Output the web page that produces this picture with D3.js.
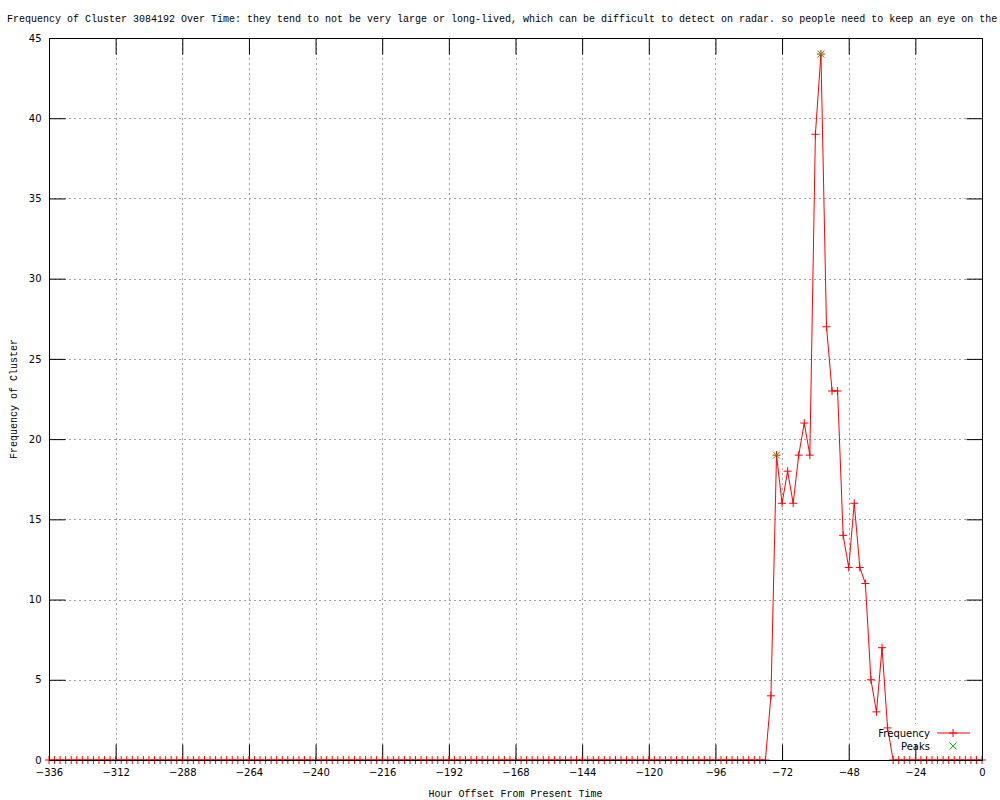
<!DOCTYPE html>
<html>
<head>
<meta charset="utf-8">
<script src="https://cdn.jsdelivr.net/npm/d3@7"></script>
<style>
  body { margin: 0; background: #fff; }
  .mono { font-family: "Liberation Mono", "DejaVu Sans Mono", monospace; font-size: 10px; }
</style>
</head>
<body>
<div id="container"></div>
<script>
/* DATA */
const titleText = "Frequency of Cluster 3084192 Over Time: they tend to not be very large or long-lived, which can be difficult to detect on radar. so people need to keep an eye on the"

// one sample every 2 hours, from -336 up to 0
const hours = d3.range(-336, 1, 2)

const frequency = [
    0, 0, 0, 0, 0, 0, 0, 0, 0, 0, 0, 0, 0, 0, 0, 0, 0, 0, 0, 0, 0, 0, 0, 0, 0, 0,
    0, 0, 0, 0, 0, 0, 0, 0, 0, 0, 0, 0, 0, 0, 0, 0, 0, 0, 0, 0, 0, 0, 0, 0, 0, 0,
    0, 0, 0, 0, 0, 0, 0, 0, 0, 0, 0, 0, 0, 0, 0, 0, 0, 0, 0, 0, 0, 0, 0, 0, 0, 0,
    0, 0, 0, 0, 0, 0, 0, 0, 0, 0, 0, 0, 0, 0, 0, 0, 0, 0, 0, 0, 0, 0, 0, 0, 0, 0,
    0, 0, 0, 0, 0, 0, 0, 0, 0, 0, 0, 0, 0, 0, 0, 0, 0, 0, 0, 0, 0, 0, 0, 0, 0, 0,
    4, 19, 16, 18, 16, 19, 21, 19, 39, 44, 27, 23, 23, 14, 12, 16, 12, 11, 5, 3, 7, 2,
    0, 0, 0, 0, 0, 0, 0, 0, 0, 0, 0, 0, 0, 0, 0, 0, 0
]

const peakHours = [-74, -58]
const peakValues = [19, 44]

const xTicks = d3.range(-336, 1, 24)
const yTicks = [0, 5, 10, 15, 20, 25, 30, 35, 40, 45]

/* CONSTANTS */
const width = 1000,
    height = 800,
    plotLeft = 49, plotRight = 982, plotTop = 38, plotBottom = 760

const data = hours.map((h, i) => ({ hour: h, value: frequency[i] }))
const peaks = peakHours.map((h, i) => ({ hour: h, value: peakValues[i] }))

//SCALE
const xScale = d3.scaleLinear().domain([-336, 0]).range([plotLeft, plotRight])
const yScale = d3.scaleLinear().domain([0, 45]).range([plotBottom, plotTop])

//SVG
const svg = d3.select("#container")
    .append("svg")
    .attr("width", width)
    .attr("height", height)
    .style("background-color", "white")

// GRID
const grid = svg.append("g")
    .attr("stroke", "#a0a0a0")
    .attr("stroke-width", 1)
    .attr("stroke-dasharray", "2,3")

grid.selectAll(".gx")
    .data(xTicks.filter(d => d > -336 && d < 0))
    .join("line")
    .attr("x1", d => Math.round(xScale(d)) + 0.5)
    .attr("x2", d => Math.round(xScale(d)) + 0.5)
    .attr("y1", plotTop)
    .attr("y2", plotBottom)

grid.selectAll(".gy")
    .data(yTicks.filter(d => d > 0 && d < 45))
    .join("line")
    .attr("x1", plotLeft)
    .attr("x2", plotRight)
    .attr("y1", d => Math.round(yScale(d)) + 0.5)
    .attr("y2", d => Math.round(yScale(d)) + 0.5)

// blank area behind the key
svg.append("rect")
    .attr("x", 868).attr("y", 724)
    .attr("width", 110).attr("height", 30)
    .attr("fill", "white")

// AXES (gnuplot style: ticks point inwards on all four sides)
const tickLen = 16
const axes = svg.append("g")

axes.append("g")
    .attr("transform", `translate(0,${plotBottom + 0.5})`)
    .call(d3.axisBottom(xScale).tickValues(xTicks).tickSize(-tickLen).tickPadding(8))
axes.append("g")
    .attr("transform", `translate(0,${plotTop + 0.5})`)
    .call(d3.axisTop(xScale).tickValues(xTicks).tickSize(-tickLen).tickFormat(""))
axes.append("g")
    .attr("transform", `translate(${plotLeft + 0.5},0)`)
    .call(d3.axisLeft(yScale).tickValues(yTicks).tickSize(-tickLen).tickPadding(8))
axes.append("g")
    .attr("transform", `translate(${plotRight + 0.5},0)`)
    .call(d3.axisRight(yScale).tickValues(yTicks).tickSize(-tickLen).tickFormat(""))

axes.selectAll(".domain").remove()
axes.selectAll(".tick line").attr("stroke", "black")
axes.selectAll("text")
    .attr("fill", "black")
    .style("font-family", "DejaVu Sans, sans-serif")
    .style("font-size", "10px")

// LINE
const line = d3.line()
    .x(d => xScale(d.hour))
    .y(d => yScale(d.value))

svg.append("path")
    .datum(data)
    .attr("d", line)
    .attr("fill", "none")
    .attr("stroke", "red")
    .attr("stroke-width", 1)

// + markers for every sample
const plus = 4
svg.append("g")
    .selectAll("path")
    .data(data)
    .join("path")
    .attr("d", d => {
        const x = xScale(d.hour), y = yScale(d.value)
        return `M${x - plus},${y}H${x + plus}M${x},${y - plus}V${y + plus}`
    })
    .attr("stroke", "red")
    .attr("stroke-width", 1)

// x markers for peaks
const cross = 3.5
svg.append("g")
    .selectAll("path")
    .data(peaks)
    .join("path")
    .attr("d", d => {
        const x = xScale(d.hour), y = yScale(d.value)
        return `M${x - cross},${y - cross}L${x + cross},${y + cross}M${x - cross},${y + cross}L${x + cross},${y - cross}`
    })
    .attr("stroke", "#00c000")
    .attr("stroke-width", 1)

// border drawn last, over the data
svg.append("rect")
    .attr("x", plotLeft + 0.5)
    .attr("y", plotTop + 0.5)
    .attr("width", plotRight - plotLeft)
    .attr("height", plotBottom - plotTop)
    .attr("fill", "none")
    .attr("stroke", "black")

// LEGEND
svg.append("text")
    .attr("x", 930).attr("y", 737)
    .attr("text-anchor", "end")
    .style("font-family", "DejaVu Sans, sans-serif")
    .style("font-size", "10px")
    .text("Frequency")
svg.append("line")
    .attr("x1", 937).attr("x2", 970)
    .attr("y1", 733).attr("y2", 733)
    .attr("stroke", "red")
svg.append("path")
    .attr("d", `M${953 - plus},733H${953 + plus}M953,${733 - plus}V${733 + plus}`)
    .attr("stroke", "red")
svg.append("text")
    .attr("x", 930).attr("y", 750)
    .attr("text-anchor", "end")
    .style("font-family", "DejaVu Sans, sans-serif")
    .style("font-size", "10px")
    .text("Peaks")
svg.append("path")
    .attr("d", `M${953 - cross},${746 - cross}L${953 + cross},${746 + cross}M${953 - cross},${746 + cross}L${953 + cross},${746 - cross}`)
    .attr("stroke", "#00c000")

// LABELS
svg.append("text")
    .attr("class", "mono")
    .attr("x", 7)
    .attr("y", 22)
    .text(titleText)

svg.append("text")
    .attr("class", "mono")
    .attr("x", (plotLeft + plotRight) / 2)
    .attr("y", 797)
    .attr("text-anchor", "middle")
    .text("Hour Offset From Present Time")

svg.append("text")
    .attr("class", "mono")
    .attr("transform", "rotate(-90)")
    .attr("x", -(plotTop + plotBottom) / 2)
    .attr("y", 17)
    .attr("text-anchor", "middle")
    .text("Frequency of Cluster")
</script>
</body>
</html>
